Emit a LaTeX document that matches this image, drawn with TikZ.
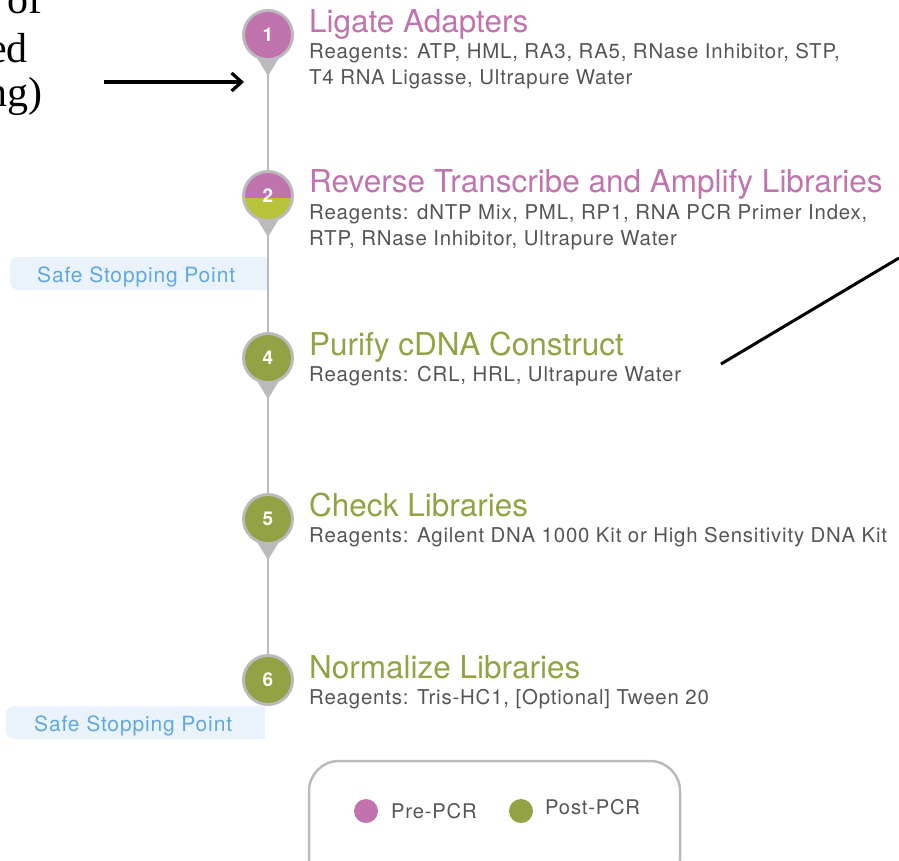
\documentclass[tikz,border=0pt]{standalone}
\usepackage{fontspec}
\setmainfont{TeX Gyre Heros}
\newfontfamily\serifx{Liberation Serif}
\newfontfamily\wide[LetterSpace=4]{TeX Gyre Heros}
\usetikzlibrary{arrows.meta}
\definecolor{pinkc}{HTML}{C173AE}
\definecolor{greenc}{HTML}{93A244}
\definecolor{yelc}{HTML}{B8C23A}
\definecolor{pingray}{HTML}{BBBBBD}
\definecolor{txtgray}{HTML}{555555}
\definecolor{safebg}{HTML}{EAF3FB}
\definecolor{safetx}{HTML}{62A8DC}
\tikzset{
  title/.style={anchor=base west, inner sep=0pt, font=\fontsize{31.5}{31.5}\selectfont},
  reag/.style={anchor=base west, inner sep=0pt, text=txtgray, font=\wide\fontsize{20.4}{20}\selectfont},
  num/.style={text=white, font=\bfseries\fontsize{19}{19}\selectfont, inner sep=0pt},
  safetxt/.style={text=safetx, font=\wide\fontsize{21}{20}\selectfont, inner sep=0pt, anchor=base west},
  legtxt/.style={text=txtgray, font=\wide\fontsize{20.2}{20}\selectfont, inner sep=0pt, anchor=base west},
  serift/.style={font=\serifx\fontsize{42}{42}\selectfont, inner sep=0pt, anchor=base east},
}
\begin{document}
\begin{tikzpicture}[x=1pt,y=-1pt]
\useasboundingbox (0,0) rectangle (899,860);
% left partial text
\node[serift] (t1) at (43,13) {of};
\node[serift] (t2) at (28,62) {ed};
\node[serift] (t3) at (43,106) {ng)};
% safe stopping boxes
\fill[safebg, rounded corners=8pt] (10,257) -- (10,290) -- (268,290) -- (268,257) -- cycle;
\fill[safebg] (200,257) rectangle (268,290);
\node[safetxt] (s1) at (37,282) {Safe Stopping Point};
\fill[safebg, rounded corners=8pt] (6,706) -- (6,739) -- (265,739) -- (265,706) -- cycle;
\fill[safebg] (200,706) rectangle (265,739);
\node[safetxt] (s2) at (34,731) {Safe Stopping Point};
% vertical line
\coordinate (c1) at (268,35);
\coordinate (c2) at (268,196);
\coordinate (c4) at (268,358);
\coordinate (c5) at (268,519);
\coordinate (c6) at (268,680);
\draw[pingray, line width=2.5pt] (c1) -- (c6);
% pins
\foreach \c/\t in {c1/1,c2/2,c4/4,c5/5}{
  \fill[pingray] ([xshift=-14pt,yshift=-18pt]\c) -- ([xshift=14pt,yshift=-18pt]\c) -- ([yshift=-41pt]\c) -- cycle;
}
\foreach \c in {c1,c2,c4,c5,c6}{
  \fill[pingray] (\c) circle (26);
}
\fill[pinkc] (c1) circle (23);
\fill[greenc] (c4) circle (23);
\fill[greenc] (c5) circle (23);
\fill[greenc] (c6) circle (23);
\begin{scope}
\clip (c2) circle (23);
\fill[pinkc] ([xshift=-30pt,yshift=30pt]c2) rectangle ([xshift=30pt,yshift=-2pt]c2);
\fill[yelc] ([xshift=-30pt,yshift=-2pt]c2) rectangle ([xshift=30pt,yshift=-30pt]c2);
\end{scope}
\node[num] (n1) at (c1) {1};
\node[num] (n2) at (c2) {2};
\node[num] (n4) at (c4) {4};
\node[num] (n5) at (c5) {5};
\node[num] (n6) at (c6) {6};
% titles
\node[title, text=pinkc] (h1) at (309,32) {Ligate Adapters};
\node[reag] (r1a) at (309,58) {Reagents: ATP, HML, RA3, RA5, RNase Inhibitor, STP,};
\node[reag] (r1b) at (309,84) {T4 RNA Ligasse, Ultrapure Water};
\node[title, text=pinkc] (h2) at (309,192) {Reverse Transcribe and Amplify Libraries};
\node[reag] (r2a) at (309,219) {Reagents: dNTP Mix, PML, RP1, RNA PCR Primer Index,};
\node[reag] (r2b) at (309,245) {RTP, RNase Inhibitor, Ultrapure Water};
\node[title, text=greenc] (h4) at (309,355) {Purify cDNA Construct};
\node[reag] (r4) at (309,381) {Reagents: CRL, HRL, Ultrapure Water};
\node[title, text=greenc] (h5) at (309,516) {Check Libraries};
\node[reag] (r5) at (309,542) {Reagents: Agilent DNA 1000 Kit or High Sensitivity DNA Kit};
\node[title, text=greenc] (h6) at (309,678) {Normalize Libraries};
\node[reag] (r6) at (309,704) {Reagents: Tris-HC1, [Optional] Tween 20};
% legend
\draw[pingray, line width=2.5pt, rounded corners=30pt] (309,761) rectangle (680,890);
\fill[pinkc] (366,811) circle (12);
\node[legtxt] (l1) at (391,818) {Pre-PCR};
\fill[greenc] (521,811) circle (12);
\node[legtxt] (l2) at (545,814) {Post-PCR};
% arrow and line
\coordinate (a1) at (104,82);
\coordinate (a2) at (244,82);
\draw[line width=3.2pt, -{Straight Barb[length=10pt,width=18pt]}] (a1) -- (a2);
\coordinate (d1) at (721,364);
\coordinate (d2) at (899,258);
\draw[line width=3pt] (d1) -- (d2);
\end{tikzpicture}
\end{document}
